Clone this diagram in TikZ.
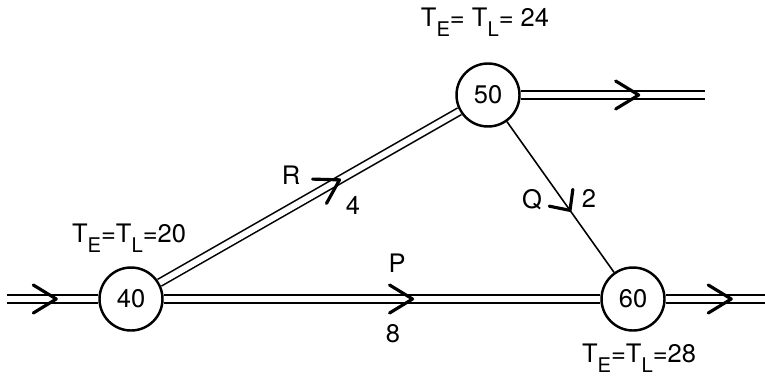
\documentclass[tikz,border=0pt]{standalone}
\usepackage{fontspec}
\setmainfont{TeX Gyre Heros}
\usetikzlibrary{
  arrows.meta,          % arrow tips
  decorations.markings, % chevrons along the activities
}
\newcommand{\tsub}[1]{\raisebox{-6pt}{\fontsize{11.5}{12}\selectfont #1}}

\begin{document}
\begin{tikzpicture}[
  event/.style={circle, draw, line width=1.4pt, fill=white, minimum size=12.6mm,
    inner sep=0pt, font=\fontsize{14.5}{16}\selectfont},
  flow/.style={double, double distance=1.2mm, line width=0.9pt},
  single/.style={line width=0.9pt},
  chevron/.style={postaction={decorate, decoration={markings,
    mark=at position #1 with {\draw[line width=1.8pt, line cap=round, line join=round]
      (-0.46,0.28) -- (0,0) -- (-0.46,-0.28);}}}},
  smallchevron/.style={postaction={decorate, decoration={markings,
    mark=at position #1 with {\draw[line width=1.8pt, line cap=round, line join=round]
      (-0.31,0.29) -- (0,0) -- (-0.31,-0.29);}}}},
  lbl/.style={font=\fontsize{14.5}{16}\selectfont, inner sep=1pt},
]
  \useasboundingbox (0,0) rectangle (15.3,7.52);
  % Events
  \node[event] (n40) at (2.62, 1.54) {40};
  \node[event] (n50) at (9.76, 5.62) {50};
  \node[event] (n60) at (12.66, 1.54) {60};
  % Free ends
  \coordinate (in)    at (0.14, 1.54);
  \coordinate (out50) at (14.10, 5.62);
  \coordinate (out60) at (15.30, 1.54);
  % Activities
  \draw[flow, chevron=0.54] (in) -- (n40);
  \draw[flow, chevron=0.60] (n40) -- (n50);
  \draw[flow, chevron=0.57] (n40) -- (n60);
  \draw[single, smallchevron=0.59] (n50) -- (n60);
  \draw[flow, chevron=0.64] (n50) -- (out50);
  \draw[flow, chevron=0.66] (n60) -- (out60);
  % Activity labels
  \node[lbl] (labR) at (5.82, 4.02) {R};
  \node[lbl] (lab4) at (7.06, 3.42) {4};
  \node[lbl] (labP) at (7.94, 2.26) {P};
  \node[lbl] (lab8) at (7.86, 0.84) {8};
  \node[lbl] (labQ) at (10.64, 3.52) {Q};
  \node[lbl] (lab2) at (11.78, 3.56) {2};
  % Event times
  \node[lbl] (t40) at (2.58, 2.76) {T\tsub{E}=T\tsub{L}=20};
  \node[lbl] (t50) at (9.70, 7.08) {T\tsub{E}= T\tsub{L}= 24};
  \node[lbl] (t60) at (12.78, 0.36) {T\tsub{E}=T\tsub{L}=28};
\end{tikzpicture}
\end{document}
